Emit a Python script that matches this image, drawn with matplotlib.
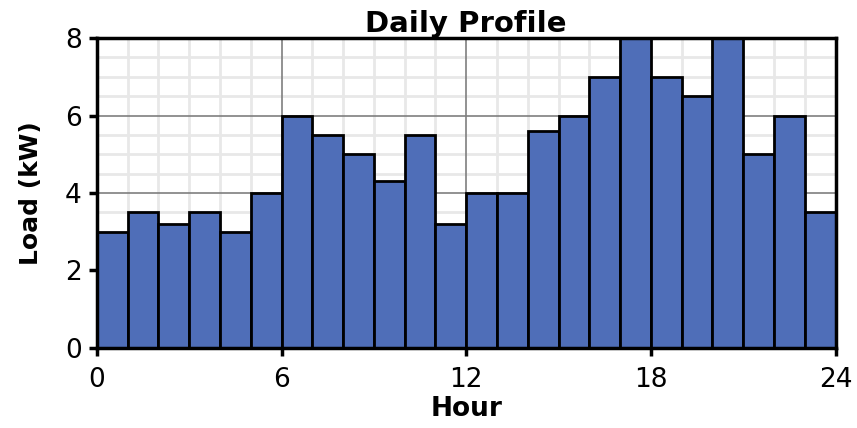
import matplotlib.pyplot as plt
import numpy as np

hours = np.arange(24)
load = [3.0, 3.5, 3.2, 3.5, 3.0, 4.0, 6.0, 5.5, 5.0, 4.3, 5.5, 3.2,
        4.0, 4.0, 5.6, 6.0, 7.0, 8.0, 7.0, 6.5, 8.0, 5.0, 6.0, 3.5]
xticks = [0, 6, 12, 18, 24]
yticks = [0, 2, 4, 6, 8]

fig = plt.figure(figsize=(8.57, 4.28), dpi=100)
ax = fig.add_axes([0.113, 0.187, 0.862, 0.724])

ax.bar(hours, load, width=1.0, align='edge', color='#4F6EB8',
       edgecolor='black', linewidth=2, zorder=3)

ax.set_xlim(0, 24)
ax.set_ylim(0, 8)
ax.set_xticks(xticks)
ax.set_yticks(yticks)
xminor = [h for h in range(25) if h % 6 != 0]
yminor = [v for v in np.arange(0, 8.01, 0.5) if v % 2 != 0]
ax.set_xticks(xminor, minor=True)
ax.set_yticks(yminor, minor=True)
ax.grid(which='minor', color='#e8e8e8', linewidth=2)
ax.set_axisbelow(True)
for x in xticks[1:-1]:
    ax.axvline(x, color='#7f7f7f', linewidth=1.2, zorder=1)
for y in yticks[1:-1]:
    ax.axhline(y, color='#7f7f7f', linewidth=1.2, zorder=1)
ax.tick_params(which='minor', length=0)
ax.tick_params(which='major', direction='out', length=6, width=2.5,
               labelsize=19)
ax.tick_params(axis='x', pad=8)
ax.tick_params(axis='y', pad=5)

for s in ax.spines.values():
    s.set_linewidth(2.5)
    s.set_zorder(4)

ax.set_title('Daily Profile', fontsize=21, fontweight='bold', pad=3)
ax.set_xlabel('Hour', fontsize=19, fontweight='bold', labelpad=2)
ax.set_ylabel('Load (kW)', fontsize=18, fontweight='bold', labelpad=16)

fig.savefig('out.png', dpi=100)
